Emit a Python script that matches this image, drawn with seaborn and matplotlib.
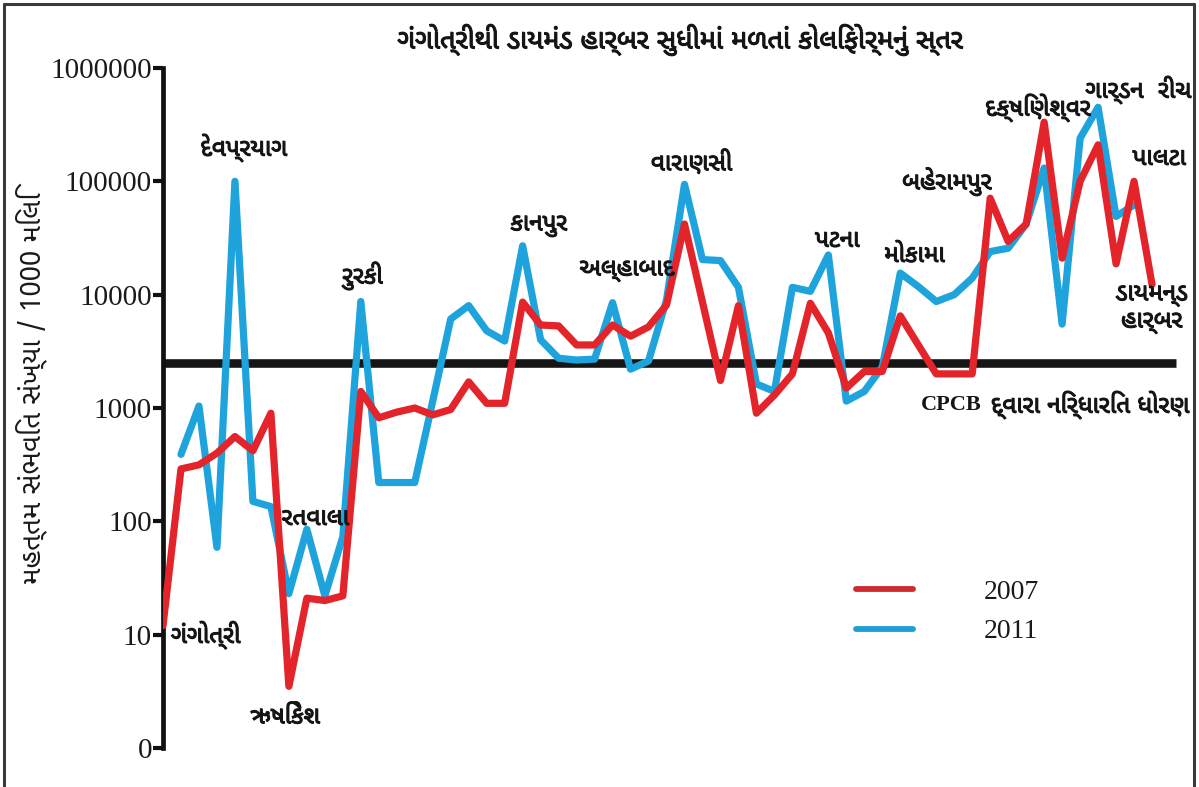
import numpy as np
import pandas as pd
import matplotlib
matplotlib.use("Agg")
import matplotlib.pyplot as plt
import matplotlib.patheffects as pe
import seaborn as sns
from matplotlib import font_manager as fm
from matplotlib.ft2font import FT2Font
from matplotlib.lines import Line2D
from matplotlib.ticker import NullLocator

# Maximum probable number of coliforms per 100 ml along the Ganga,
# sampling points ordered from Gangotri down to Diamond Harbour.
coliform_2007 = [12, 290, 315, 400, 560, 420, 900, 3.5, 21, 20, 22,
                 1400, 820, 920, 1000, 870, 970, 1700, 1100, 1100, 8600,
                 5400, 5300, 3600, 3600, 5400, 4300, 5200, 8100, 42000,
                 8600, 1750, 8000, 900, 1300, 2000, 8400, 4600, 1500, 2100,
                 2100, 6500, 3600, 2000, 2000, 2000, 71000, 29500, 42000, 333000,
                 21000, 100000, 210000, 18700, 100000, 12300]
coliform_2011 = [np.nan, 390, 1040, 59, 100000, 150, 135, 23, 85, 22, 73,
                 8700, 220, 220, 220, 1150, 6100, 8000, 4800, 3900, 27000,
                 4000, 2750, 2650, 2700, 8500, 2200, 2600, 9000, 94000,
                 20400, 20000, 11600, 1630, 1400, 11600, 10700, 22400, 1150, 1400,
                 2300, 15500, 11800, 8700, 10000, 14000, 24000, 25700, 42000, 131000,
                 5500, 240000, 450000, 49000, 62000, np.nan]
years = ["2007", "2011"]
cpcb_standard = 2500

y_ticks = [1, 10, 100, 1000, 10000, 100000, 1000000]
y_tick_labels = ["0", "10", "100", "1000", "10000", "100000", "1000000"]

# Named sampling points: (position along the river, value, name, anchor)
station_labels = [
    (0.45, 9.9, "ગંગોત્રી", "left"),
    (6.8, 1.9, "ઋષિકેશ", "center"),
    (6.6, 107, "રતવાલા", "left"),
    (4.5, 197000, "દેવપ્રયાગ", "center"),
    (11.1, 14600, "રુરકી", "center"),
    (20.9, 41000, "કાનપુર", "center"),
    (25.8, 16600, "અલ્હાબાદ", "center"),
    (29.4, 146000, "વારાણસી", "center"),
    (37.5, 30500, "પટના", "center"),
    (41.8, 22400, "મોકામા", "center"),
    (43.6, 99000, "બહેરામપુર", "center"),
    (51.6, 445000, "દક્ષિણેશ્વર", "right"),
    (57.2, 640000, "ગાર્ડન  રીચ", "right"),
    (56.9, 161000, "પાલટા", "right"),
    (57.0, 7600, "ડાયમન્ડ\nહાર્બર", "right"),
]
title_text = "ગંગોત્રીથી ડાયમંડ હાર્બર સુધીમાં મળતાં કોલિફોર્મનું સ્તર"
ylabel_text = "મહત્તમ સંભવિત સંખ્યા / 1000 મિલિ"
cpcb_text = "દ્વારા નિર્ધારિત ધોરણ"


def family_for(char):
    """Return an installed family with a glyph for `char`, sans faces first."""
    code = ord(char)
    found = []
    for entry in fm.fontManager.ttflist:
        try:
            if code in FT2Font(entry.fname).get_charmap():
                found.append(entry)
        except Exception:
            continue
    if not found:
        return None
    found.sort(key=lambda e: (0 if "sans" in e.name.lower() else 1))
    return found[0].name


sns.set_theme(style="white")
guj = family_for("ગ")
guj_family = ([guj] if guj else []) + ["DejaVu Sans"]
serif_family = ["Liberation Serif", "DejaVu Serif"]
plt.rcParams["font.family"] = guj_family

ink = "#151515"
heavy = [pe.withStroke(linewidth=0.8, foreground=ink)]

red = "#e3242b"
blue = "#1ea3dc"

df = pd.DataFrame({
    "point": list(range(len(coliform_2007))) * 2,
    "value": coliform_2007 + coliform_2011,
    "year": [years[0]] * len(coliform_2007) + [years[1]] * len(coliform_2011),
}).dropna()

W, H = 1199, 787
fig = plt.figure(figsize=(W / 100, H / 100), dpi=100)
fig.patch.set_facecolor("white")

lo, hi = -0.04, 6.04
dec = 113.3
ax_top = 68 - (hi - 6) * dec
ax_bot = 748 + (0 - lo) * dec
ax_left, ax_right = 163, 1179
ax = fig.add_axes([ax_left / W, 1 - ax_bot / H, (ax_right - ax_left) / W, (ax_bot - ax_top) / H])

ax.set_yscale("log")
ax.set_ylim(10 ** lo, 10 ** hi)
ax.set_xlim(0, 56.5)

# CPCB bathing-water standard
ax.axhline(cpcb_standard, xmin=0, xmax=(1176 - ax_left) / (ax_right - ax_left),
           color="#161616", lw=6.2, zorder=1, solid_capstyle="butt")

sns.lineplot(data=df, x="point", y="value", hue="year", hue_order=["2011", "2007"],
             palette={"2007": red, "2011": blue}, linewidth=5.2, legend=False,
             ax=ax, zorder=3, estimator=None, sort=False)

for spine in ["top", "right", "bottom"]:
    ax.spines[spine].set_visible(False)
ax.spines["left"].set_linewidth(3.4)
ax.spines["left"].set_color("#111111")
ax.spines["left"].set_bounds(1, 1e6)

ax.set_yticks(y_ticks)
ax.set_yticklabels(y_tick_labels)
ax.yaxis.set_minor_locator(NullLocator())
ax.tick_params(axis="y", direction="out", length=7, width=3, color="#111111",
               labelsize=21, pad=1, labelcolor="#1a1a1a", left=True)
for lbl in ax.get_yticklabels():
    lbl.set_fontfamily(serif_family)
ax.set_xticks([])
ax.set_xlabel("")
ax.set_ylabel("")
ax.grid(False)

for x, y, name, anchor in station_labels:
    ax.text(x, y, name, ha=anchor, va="center", fontsize=17.5, color=ink,
            family=guj_family, linespacing=1.1, zorder=5, multialignment="center",
            path_effects=heavy)

# label of the standard line, right-aligned near the frame
std_y = 1 - 405 / H
std_txt = fig.text(1190 / W, std_y, cpcb_text, ha="right", va="center", fontsize=17.5,
                   color=ink, family=guj_family, path_effects=heavy)
fig.canvas.draw()
bb = std_txt.get_window_extent()
fig.text((bb.x0 - 9) / W, std_y, "CPCB", ha="right", va="center", fontsize=16,
         fontweight="bold", color=ink, family=serif_family)

fig.text(680 / W, 1 - 40 / H, title_text, ha="center", va="center", fontsize=19.5,
         color=ink, family=guj_family, path_effects=heavy)
fig.text(31 / W, 1 - 388 / H, ylabel_text, ha="center", va="center", rotation=90,
         fontsize=20, color="#1a1a1a", family=guj_family + ["Liberation Serif"])

handles = [Line2D([0], [0], color="#cf2a2f", lw=4.2),
           Line2D([0], [0], color="#1d9fd4", lw=4.2)]
leg = fig.legend(handles, years, loc="center left", bbox_to_anchor=(842 / W, 1 - 612 / H),
                 frameon=False, handlelength=2.05, handletextpad=2.55, labelspacing=0.5,
                 borderpad=0, prop={"family": serif_family, "size": 20})
for t in leg.get_texts():
    t.set_color("#1a1a1a")

# thin frame round the graphic
frame_kw = dict(color="#3a3a3a", lw=2.2, transform=fig.transFigure)
fig.add_artist(Line2D([4 / W, 4 / W], [0, 1 - 4 / H], **frame_kw))
fig.add_artist(Line2D([4 / W, 1 - 5 / W], [1 - 4 / H, 1 - 4 / H], **frame_kw))
fig.add_artist(Line2D([1 - 5 / W, 1 - 5 / W], [0, 1 - 4 / H], **frame_kw))

fig.savefig("out.png", dpi=100)
